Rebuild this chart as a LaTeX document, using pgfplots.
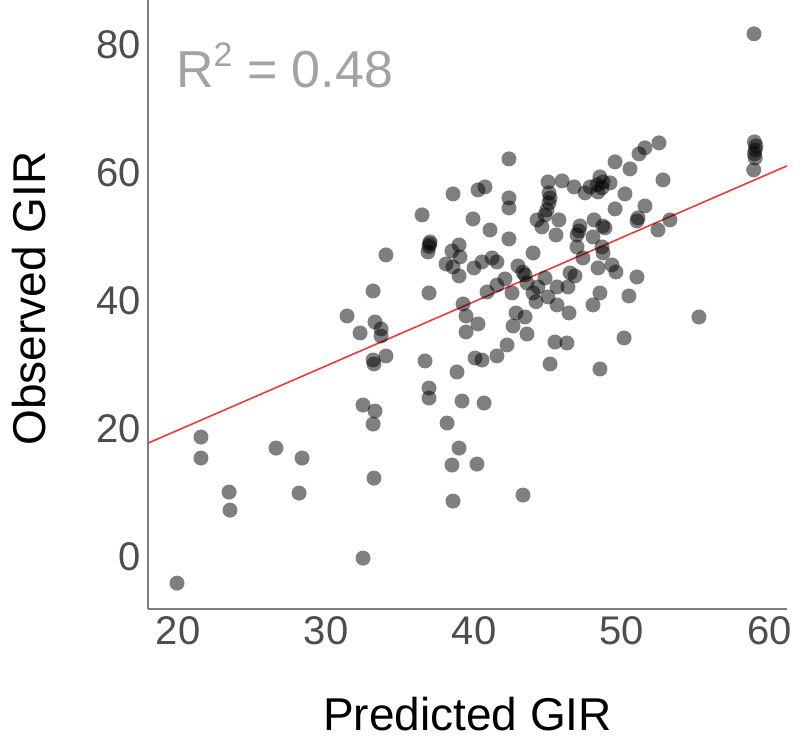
\documentclass[border=0pt]{standalone}
\usepackage{pgfplots}
\pgfplotsset{compat=1.18}
\usepackage{pgfplotstable}
\usepackage{fontspec}
\setmainfont{Liberation Sans}
\definecolor{ticktext}{HTML}{4D4D4D}
\definecolor{axisline}{HTML}{7F7F7F}
\definecolor{rtext}{HTML}{A3A3A3}
\definecolor{fitred}{HTML}{F03A3A}

\pgfplotstableread{
x y
19.93 -4.06
21.55 18.75
21.55 15.47
23.45 10.16
23.51 7.34
26.62 17.03
28.38 15.47
28.18 10.00
32.50 -0.16
33.24 12.34
31.42 37.66
32.30 35.00
33.31 36.72
33.72 35.63
33.72 34.53
34.05 31.41
33.18 30.78
33.24 30.16
32.50 23.75
33.31 22.81
33.18 20.78
33.18 41.56
34.05 47.19
36.49 53.44
36.96 41.25
36.69 30.63
36.96 26.41
36.96 24.84
38.85 28.91
39.19 24.38
38.18 20.94
38.99 17.03
38.51 14.38
38.58 8.75
40.20 14.53
40.68 24.06
43.31 9.69
45.14 30.16
48.51 29.38
45.47 33.59
46.28 33.44
50.14 34.22
55.20 37.50
42.23 33.13
41.55 31.41
40.07 31.09
40.54 30.78
39.26 39.53
39.46 37.66
40.27 36.41
39.46 35.16
42.36 62.19
38.58 56.72
40.27 57.34
40.74 57.81
42.36 56.09
42.36 54.53
39.93 52.81
41.08 51.09
42.36 49.69
37.03 49.22
37.00 48.90
36.96 48.50
36.89 47.66
38.99 48.75
38.51 47.81
39.05 46.88
38.11 45.78
38.58 45.31
38.99 43.91
40.00 45.16
40.54 46.09
41.22 46.72
41.55 46.09
43.99 47.50
42.97 45.47
43.45 44.06
43.30 44.50
43.58 42.81
42.09 43.44
41.55 42.50
40.88 41.41
42.57 41.25
43.99 41.25
44.19 39.90
42.84 38.13
43.45 37.50
42.64 36.09
43.58 34.84
44.32 42.19
44.26 52.66
44.59 51.56
45.74 52.66
45.54 50.31
45.07 56.88
45.14 56.09
45.07 55.31
44.93 54.22
44.80 53.44
45.00 58.59
45.95 58.75
46.76 57.81
47.50 56.88
47.16 51.72
47.09 50.94
46.96 50.31
48.11 52.66
48.85 51.41
48.70 51.70
48.04 50.00
46.96 48.44
47.36 46.72
48.65 48.44
48.72 47.50
48.38 45.16
49.32 45.63
49.59 44.53
51.01 43.75
50.47 40.78
48.51 41.25
46.49 44.38
46.82 43.91
46.35 42.19
45.61 42.19
44.80 43.59
45.00 40.63
45.61 39.38
48.04 39.38
46.42 38.13
52.50 64.69
51.55 63.91
51.15 62.97
49.53 61.72
50.54 60.63
52.77 58.91
48.51 59.38
48.72 58.59
48.31 58.13
48.65 57.66
48.38 57.03
49.19 58.44
47.84 57.81
50.20 56.72
49.53 54.38
51.55 54.84
51.08 52.97
51.01 52.50
52.43 51.09
53.24 52.66
58.92 81.72
58.95 64.84
59.05 64.22
59.00 63.59
58.95 62.97
59.00 62.34
58.90 60.47
}\pointdata

\begin{document}
\begin{tikzpicture}
\path[use as bounding box] (-148pt,-132pt) rectangle (652pt,609pt);
\begin{axis}[
  scale only axis, width=639pt, height=609pt,
  at={(0pt,0pt)}, anchor=south west,
  xmin=17.97, xmax=61.15, ymin=-8.1, ymax=87,
  axis x line*=bottom, axis y line*=left,
  axis line style={draw=axisline, line width=1.6pt, -},
  xtick={20,30,40,50,60}, ytick={0,20,40,60,80},
  major tick length=0pt,
  /pgf/number format/assume math mode=true,
  tick label style={font=\fontsize{40}{40}\selectfont, text=ticktext},
  xticklabel style={inner sep=0pt, anchor=north, yshift=-7pt},
  yticklabel style={inner sep=0pt, anchor=east, xshift=-7pt},
  xlabel={Predicted GIR}, ylabel={Observed GIR},
  label style={font=\fontsize{46}{46}\selectfont, text=black, inner sep=0pt},
  xlabel style={at={(axis description cs:0.5,-0.199)}, anchor=base},
  ylabel style={at={(axis description cs:-0.16,0.51)}, anchor=base, rotate=0},
]
\addplot[only marks, mark=*, mark size=7.5pt, draw opacity=0,
  mark options={draw opacity=0, line width=0pt, fill=black, fill opacity=0.5}] table[x=x, y=y] {\pointdata};
\addplot[fitred, line width=1.6pt] coordinates {(17.97,17.8) (61.15,61.1)};
\node[anchor=base west, text=rtext, font=\fontsize{52}{52}\selectfont, inner sep=0pt]
  at (axis cs:19.86,73.4) {R\raisebox{0.4em}{\fontsize{34}{34}\selectfont 2} = 0.48};
\end{axis}
\end{tikzpicture}
\end{document}
